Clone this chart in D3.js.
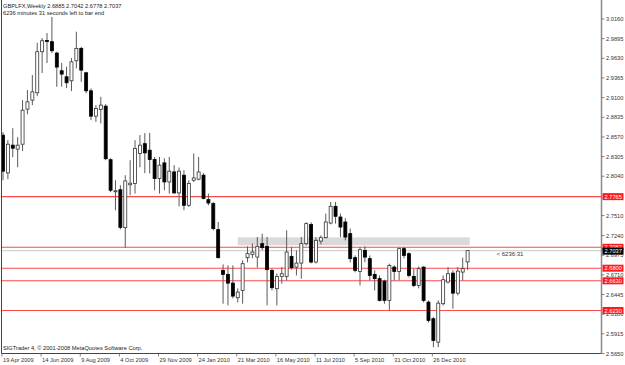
<!DOCTYPE html>
<html><head><meta charset="utf-8">
<script src="https://cdn.jsdelivr.net/npm/d3@7"></script>
<style>
html,body{margin:0;padding:0;background:#fff;}
svg{display:block;}
text{font-family:"Liberation Sans",Arial,sans-serif;}
</style></head><body>
<svg id="chart" width="625" height="365"></svg>
<script>
// ---------- data ----------
const symbolTitle = "GBPLFX,Weekly";
const lastQuote = ["2.6885", "2.7042", "2.6778", "2.7037"];
const timerText = "6236 minutes 31 seconds left to bar end";
const copyright = "SIGTrader 4, \u00a9 2001-2008 MetaQuotes Software Corp.";
const countdown = "< 6236:31";
const firstWeek = "2009-04-19";

const open = [
2.8594, 2.8085, 2.8459, 2.8405, 2.8472, 2.8945, 2.9066, 2.9165, 2.9719, 2.9870,
2.9854, 2.9701, 2.9462, 2.9381, 2.9327, 2.9597, 2.9764, 2.9435, 2.9192, 2.8850,
2.8941, 2.8985, 2.8263, 2.7831, 2.7858, 2.7347, 2.7925, 2.7942, 2.8347, 2.8479,
2.8391, 2.8266, 2.8009, 2.8220, 2.7963, 2.8098, 2.7815, 2.8054, 2.7648, 2.7986,
2.8000, 2.8054, 2.7725, 2.7671, 2.7320, 2.6771, 2.6717, 2.6599, 2.6402, 2.6501,
2.6942, 2.6987, 2.6950, 2.7131, 2.7095, 2.6771, 2.6524, 2.6690, 2.6690, 2.6960,
2.6815, 2.6869, 2.7131, 2.7388, 2.6883, 2.7166, 2.7212, 2.7409, 2.7635, 2.7490,
2.7423, 2.7266, 2.6942, 2.6757, 2.7041, 2.6929, 2.6717, 2.6659, 2.6626, 2.6366,
2.6815, 2.6757, 2.7064, 2.6996, 2.6690, 2.6568, 2.6815, 2.6343, 2.6119, 2.5803,
2.6321, 2.6613, 2.6734, 2.6464, 2.6748, 2.6885];
const high = [
2.8634, 2.8526, 2.8688, 2.8567, 2.9066, 2.9201, 2.9404, 2.9840, 2.9903, 2.9971,
3.0187, 2.9719, 2.9566, 2.9516, 2.9633, 2.9989, 2.9786, 2.9448, 2.9224, 2.8999,
2.9111, 2.9012, 2.8283, 2.7986, 2.7919, 2.8054, 2.8256, 2.8526, 2.8594, 2.8621,
2.8625, 2.8301, 2.8301, 2.8283, 2.8301, 2.8189, 2.8158, 2.8121, 2.7986, 2.8347,
2.8301, 2.8081, 2.7806, 2.7693, 2.7423, 2.6852, 2.6838, 2.6838, 2.6528, 2.6906,
2.7095, 2.7135, 2.7220, 2.7266, 2.7220, 2.6794, 2.6730, 2.6815, 2.7311, 2.7085,
2.7041, 2.7220, 2.7419, 2.7419, 2.7216, 2.7243, 2.7536, 2.7693, 2.7693, 2.7536,
2.7473, 2.7334, 2.6973, 2.7085, 2.7095, 2.6973, 2.6771, 2.6703, 2.6645, 2.6861,
2.6838, 2.7077, 2.7085, 2.7014, 2.6794, 2.6825, 2.6825, 2.6366, 2.6140, 2.6366,
2.6703, 2.6815, 2.6771, 2.6815, 2.6942, 2.7042];
const low = [
2.7986, 2.8000, 2.8297, 2.8162, 2.8378, 2.8877, 2.8999, 2.9120, 2.9431, 2.9566,
2.9701, 2.9246, 2.9246, 2.9228, 2.9188, 2.9494, 2.9313, 2.9157, 2.8796, 2.8773,
2.8752, 2.8256, 2.7824, 2.7581, 2.7324, 2.7077, 2.7783, 2.7806, 2.8162, 2.8081,
2.8077, 2.7851, 2.7806, 2.7851, 2.7806, 2.7806, 2.7635, 2.7581, 2.7626, 2.7963,
2.7986, 2.7729, 2.7648, 2.7311, 2.6933, 2.6321, 2.6298, 2.6393, 2.6339, 2.6321,
2.6879, 2.6933, 2.6807, 2.7041, 2.6298, 2.6501, 2.6298, 2.6591, 2.6636, 2.6780,
2.6703, 2.6659, 2.7108, 2.6865, 2.6865, 2.7122, 2.7203, 2.7392, 2.7401, 2.7220,
2.7176, 2.6879, 2.6744, 2.6568, 2.6879, 2.6636, 2.6501, 2.6352, 2.6321, 2.6231,
2.6636, 2.6636, 2.6933, 2.6676, 2.6545, 2.6528, 2.6339, 2.6069, 2.5735, 2.5735,
2.6298, 2.6595, 2.6254, 2.6433, 2.6636, 2.6778];
const close = [
2.8108, 2.8472, 2.8418, 2.8459, 2.8931, 2.9043, 2.9178, 2.9719, 2.9867, 2.9863,
2.9732, 2.9512, 2.9417, 2.9300, 2.9583, 2.9764, 2.9471, 2.9192, 2.8850, 2.8954,
2.8999, 2.8276, 2.7851, 2.7844, 2.7351, 2.7977, 2.7946, 2.8414, 2.8459, 2.8355,
2.8266, 2.8009, 2.8189, 2.7963, 2.8108, 2.7815, 2.8108, 2.7648, 2.7942, 2.8017,
2.8098, 2.7739, 2.7679, 2.7334, 2.6942, 2.6717, 2.6599, 2.6424, 2.6478, 2.6861,
2.6996, 2.7018, 2.7095, 2.7077, 2.6780, 2.6537, 2.6690, 2.6726, 2.7018, 2.6807,
2.6869, 2.7131, 2.7401, 2.6883, 2.7176, 2.7212, 2.7423, 2.7635, 2.7500, 2.7355,
2.7220, 2.6929, 2.6771, 2.7050, 2.6950, 2.6703, 2.6659, 2.6366, 2.6366, 2.6838,
2.6757, 2.7064, 2.6973, 2.6703, 2.6568, 2.6794, 2.6366, 2.6096, 2.5826, 2.6329,
2.6645, 2.6726, 2.6464, 2.6761, 2.6794, 2.7037];

const priceTicks = ["3.0160","2.9895","2.9630","2.9365","2.9100","2.8835","2.8570","2.8305",
  "2.8040","2.7510","2.7240","2.6975","2.6710","2.6445","2.6180","2.5915","2.5650"];
const dateLabels = ["19 Apr 2009","14 Jun 2009","9 Aug 2009","4 Oct 2009","29 Nov 2009","24 Jan 2010",
  "21 Mar 2010","16 May 2010","11 Jul 2010","5 Sep 2010","31 Oct 2010","26 Dec 2010"];
const levelLines = [2.7765, 2.7082, 2.6800, 2.6630, 2.6230];
const levelLabels = ["2.7765", "2.7082", "2.6800", "2.6630", "2.6230"];
const bidPrice = 2.7037;
const bidLabel = "2.7037";
const zonePrices = [2.7108, 2.7216];
const zoneWeeks = ["2010-03-21", "2011-02-16"];

(function () {
// ---------- layout ----------
const svg = d3.select("#chart");
const W = 625, H = 365;
const pLeft = 1.5, pRight = 601.5, pBottom = 353.5, pTop = 0;
const parse = d3.utcParse("%Y-%m-%d");
const week0 = parse(firstWeek);
const dates = open.map((d, i) => d3.utcWeek.offset(week0, i));
const bars = open.map((o, i) => ({date: dates[i], o, h: high[i], l: low[i], c: close[i]}));

const x = d3.scaleUtc().domain([dates[0], dates[dates.length - 1]]).range([3, 467.6]);
const y = d3.scaleLinear().domain([2.5650, 3.0160]).range([pBottom, 19]);
const fmt = d3.utcFormat("%-d %b %Y");
const fontSize = 5.7;

svg.append("rect").attr("width", W).attr("height", H).attr("fill", "#fff");

svg.append("clipPath").attr("id", "plot").append("rect")
  .attr("x", pLeft).attr("y", pTop).attr("width", pRight - pLeft).attr("height", pBottom - pTop);
const plot = svg.append("g").attr("clip-path", "url(#plot)");

// zone rectangle
plot.append("rect")
  .attr("x", x(parse(zoneWeeks[0])))
  .attr("width", x(parse(zoneWeeks[1])) - x(parse(zoneWeeks[0])))
  .attr("y", y(zonePrices[1]))
  .attr("height", y(zonePrices[0]) - y(zonePrices[1]))
  .attr("fill", "#dadada");

// bid line
plot.append("line").attr("x1", pLeft).attr("x2", pRight)
  .attr("y1", y(bidPrice)).attr("y2", y(bidPrice))
  .attr("stroke", "#d4d4d4").attr("stroke-width", 1.2);

// level lines
plot.selectAll("line.level").data(levelLines).join("line").attr("class", "level")
  .attr("x1", pLeft).attr("x2", pRight)
  .attr("y1", d => y(d)).attr("y2", d => y(d))
  .attr("stroke", "#ff4848").attr("stroke-width", 1.1);

// candles
const bw = 3;
const cg = plot.selectAll("g.bar").data(bars).join("g").attr("class", "bar");
cg.append("line")
  .attr("x1", d => x(d.date)).attr("x2", d => x(d.date))
  .attr("y1", d => y(d.h)).attr("y2", d => y(d.l))
  .attr("stroke", "#5a5a5a").attr("stroke-width", 1);
cg.append("rect")
  .attr("x", d => x(d.date) - bw / 2).attr("width", bw)
  .attr("y", d => y(Math.max(d.o, d.c)))
  .attr("height", d => Math.max(1, Math.abs(y(d.o) - y(d.c))))
  .attr("fill", d => d.c >= d.o ? "#fff" : "#000")
  .attr("stroke", d => d.c >= d.o ? "#333" : "#000")
  .attr("stroke-width", 0.8);

// countdown text
svg.append("text").attr("x", x(dates[dates.length - 1]) + 29).attr("y", y(bidPrice) + 5.3)
  .attr("font-family", "DejaVu Sans Mono, monospace").attr("font-size", 6)
  .attr("fill", "#333").text(countdown);

// frame
svg.append("line").attr("x1", pLeft).attr("x2", pLeft).attr("y1", pTop).attr("y2", pBottom)
  .attr("stroke", "#444").attr("stroke-width", 1);
svg.append("line").attr("x1", pLeft).attr("x2", pRight).attr("y1", pBottom).attr("y2", pBottom)
  .attr("stroke", "#444").attr("stroke-width", 1);
svg.append("line").attr("x1", pRight).attr("x2", pRight).attr("y1", pTop).attr("y2", pBottom)
  .attr("stroke", "#8a8a8a").attr("stroke-width", 1.5);

// right price axis
const ya = svg.append("g");
ya.selectAll("line").data(priceTicks).join("line")
  .attr("x1", pRight).attr("x2", pRight + 3)
  .attr("y1", d => y(+d)).attr("y2", d => y(+d))
  .attr("stroke", "#666").attr("stroke-width", 0.8);
ya.selectAll("text").data(priceTicks).join("text")
  .attr("x", pRight + 4.5).attr("y", d => y(+d) + 2)
  .attr("font-size", fontSize).attr("fill", "#333").text(d => d);

// level labels
const lg = svg.selectAll("g.lvl").data(levelLines).join("g").attr("class", "lvl");
lg.append("rect").attr("x", pRight + 1).attr("width", 21)
  .attr("y", d => y(d) - 3.5).attr("height", 7).attr("fill", "#ff1a1a");
lg.append("text").attr("x", pRight + 3).attr("y", d => y(d) + 2.1)
  .attr("font-size", fontSize).attr("fill", "#fff").text((d, i) => levelLabels[i]);

// bid label
svg.append("rect").attr("x", pRight + 1).attr("width", 21)
  .attr("y", y(bidPrice) - 3).attr("height", 7).attr("fill", "#000");
svg.append("text").attr("x", pRight + 3).attr("y", y(bidPrice) + 2.6)
  .attr("font-size", fontSize).attr("fill", "#fff").text(bidLabel);

// bottom time axis
const labelDates = dateLabels.map(s => dates.find(d => fmt(d) === s));
const xa = svg.append("g");
xa.selectAll("line").data(labelDates).join("line")
  .attr("x1", d => x(d) - 1).attr("x2", d => x(d) - 1)
  .attr("y1", pBottom).attr("y2", pBottom + 3)
  .attr("stroke", "#666").attr("stroke-width", 0.8);
xa.selectAll("text").data(labelDates).join("text")
  .attr("x", d => x(d)).attr("y", 362)
  .attr("font-size", fontSize).attr("fill", "#333").text(d => fmt(d));

// header texts
svg.append("text").attr("x", 3).attr("y", 7.5).attr("font-size", fontSize).attr("fill", "#222")
  .text(symbolTitle + "  " + lastQuote.join(" "));
svg.append("text").attr("x", 3).attr("y", 15).attr("font-size", fontSize).attr("fill", "#222")
  .text(timerText);
svg.append("text").attr("x", 3).attr("y", 350).attr("font-size", fontSize).attr("fill", "#222")
  .text(copyright);
})();
</script>
</body></html>
